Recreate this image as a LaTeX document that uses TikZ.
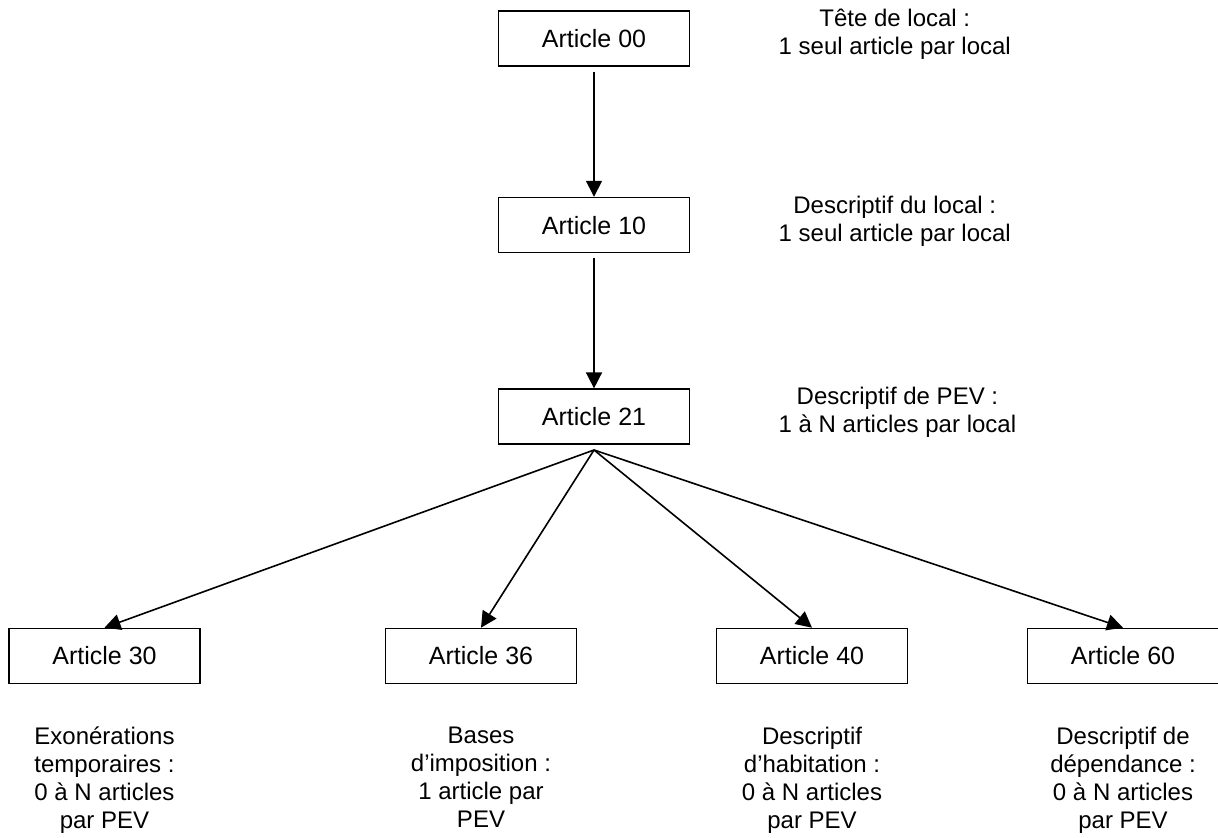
\documentclass[tikz,border=0pt]{standalone}
\usepackage{fontspec}
\setmainfont{Liberation Sans}
\usetikzlibrary{positioning,arrows.meta}

\begin{document}
\begin{tikzpicture}[
        x=0.5pt, y=-0.5pt,
        node distance=65pt and 44pt,
        article/.style={rectangle, draw, line width=0.8pt, minimum width=95.5pt, minimum height=27.5pt, inner sep=0pt, font=\fontsize{12.5}{14}\selectfont},
        note/.style={align=center, inner sep=0pt, font=\fontsize{12}{14}\selectfont},
        leafnote/.style={note, execute at begin node={\rule{0pt}{11pt}}},
        link/.style={->, line width=0.8pt, >={Triangle[length=8pt, width=8pt]}}
    ]
        \useasboundingbox (0,0) rectangle (1218,838);

        % Define articles
        \node[article] (a00) at (594,38.5) {Article 00};
        \node[article, below=of a00] (a10) {Article 10};
        \node[article, below=67.5pt of a10] (a21) {Article 21};
        \node[article] (a30) at (104.5,656) {Article 30};
        \node[article] (a36) at (481,656) {Article 36};
        \node[article] (a40) at (812,656) {Article 40};
        \node[article] (a60) at (1123,656) {Article 60};

        % Side notes
        \node[note, right=of a00, yshift=2pt] (n00) {T\^ete de local :\\1 seul article par local};
        \node[note, right=of a10, yshift=2pt] (n10) {Descriptif du local :\\1 seul article par local};
        \node[note, right=of a21, yshift=2pt] (n21) {Descriptif de PEV :\\1 à N articles par local};

        % Notes under the leaves
        \node[leafnote, below=21pt of a30] (n30) {Exonérations\\temporaires :\\0 à N articles\\par PEV};
        \node[leafnote, below=21pt of a36] (n36) {Bases\\d’imposition :\\1 article par\\PEV};
        \node[leafnote, below=21pt of a40] (n40) {Descriptif\\d’habitation :\\0 à N articles\\par PEV};
        \node[leafnote, below=21pt of a60] (n60) {Descriptif de\\dépendance :\\0 à N articles\\par PEV};

        % Links
        \draw[link, shorten <=2.5pt] (a00) -- (a10);
        \draw[link, shorten <=2.5pt] (a10) -- (a21);

        % Fan out from Article 21
        \coordinate[below=2.5pt of a21] (fork);
        \draw[link] (fork) -- (a30.north);
        \draw[link] (fork) -- (a36.north);
        \draw[link] (fork) -- (a40.north);
        \draw[link] (fork) -- (a60.north);

    \end{tikzpicture}
\end{document}
